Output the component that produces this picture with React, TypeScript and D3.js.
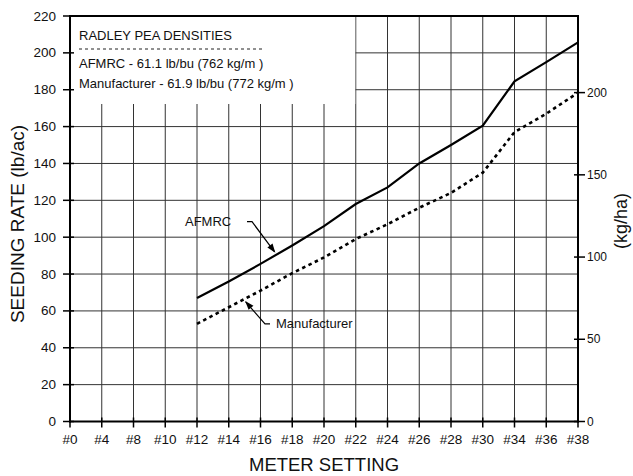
import * as d3 from 'd3';

const W = 633;
const H = 476;
const LEFT = 70;
const RIGHT = 578;
const TOP = 16;
const BOTTOM = 421.5;
const FONT = 'Liberation Sans, Arial, Helvetica, sans-serif';

// meter settings on the x axis
const settings = ['#0', '#4', '#8', '#10', '#12', '#14', '#16', '#18', '#20', '#22', '#24', '#26', '#28', '#30', '#34', '#36', '#38'];
const measured = ['#12', '#14', '#16', '#18', '#20', '#22', '#24', '#26', '#28', '#30', '#34', '#36', '#38'];
// seeding rate, lb/ac
const afmrc = [67, 76, 85.5, 95.5, 106, 118, 127, 140, 150, 160.5, 184.5, 195, 205.7];
const manufacturer = [53, 62, 71, 80.5, 89, 99, 107, 116, 124, 135, 157, 167, 178.4];

const lbTicks = [0, 20, 40, 60, 80, 100, 120, 140, 160, 180, 200, 220];
const kgTicks = [0, 50, 100, 150, 200];
const LB_TO_KG = 1.12085;

const legendLines = [
  'AFMRC - 61.1 lb/bu (762 kg/m )',
  'Manufacturer - 61.9 lb/bu (772 kg/m )',
];

export default function App() {
  const x = d3.scalePoint<string>().domain(settings).range([LEFT, RIGHT]);
  const y = d3.scaleLinear().domain([0, 220]).range([BOTTOM, TOP]);
  const yKg = d3.scaleLinear().domain([0, 220 * LB_TO_KG]).range([BOTTOM, TOP]);

  const line = d3
    .line<number>()
    .x((_, i) => x(measured[i])!)
    .y((d) => y(d));

  // annotation anchors on the series
  const aTipX = (x('#16')! + x('#18')!) / 2;
  const aTipY = y((afmrc[2] + afmrc[3]) / 2);
  const mTipX = (x('#14')! + x('#16')!) / 2;
  const mTipY = y((manufacturer[1] + manufacturer[2]) / 2);

  const arrowHead = (tx: number, ty: number, fx: number, fy: number) => {
    const ang = Math.atan2(ty - fy, tx - fx);
    const len = 9;
    const wid = 3.2;
    const bx = tx - len * Math.cos(ang);
    const by = ty - len * Math.sin(ang);
    const px = -Math.sin(ang) * wid;
    const py = Math.cos(ang) * wid;
    return `M${tx},${ty}L${bx + px},${by + py}L${bx - px},${by - py}Z`;
  };

  const aFrom = { x: 252, y: aTipY - 33 };
  const mFrom = { x: 265, y: mTipY + 25 };

  return (
    <svg width={W} height={H} style={{ position: 'absolute', left: 0, top: 0, background: '#fff' }} fontFamily={FONT}>
      {/* grid */}
      <g stroke="#333" strokeWidth={1}>
        {settings.slice(1).map((s) => (
          <line key={s} x1={x(s)} x2={x(s)} y1={TOP} y2={BOTTOM} />
        ))}
        {lbTicks.slice(1, -1).map((t) => (
          <line key={t} x1={LEFT} x2={RIGHT} y1={y(t)} y2={y(t)} />
        ))}
      </g>
      {/* legend box covers the grid */}
      <rect x={LEFT + 1} y={TOP + 1} width={x('#22')! - LEFT - 1.5} height={104 - TOP - 1} fill="#fff" />
      <g fontSize={13} fill="#111">
        <text x={79} y={40}>RADLEY PEA DENSITIES</text>
        <line x1={79} x2={263} y1={49} y2={49} stroke="#222" strokeWidth={1} strokeDasharray="3,3" />
        {legendLines.map((t, i) => (
          <text key={t} x={79} y={68 + i * 20}>{t}</text>
        ))}
      </g>

      {/* frame */}
      <g stroke="#000" strokeWidth={2} fill="none">
        <line x1={LEFT} x2={RIGHT} y1={TOP} y2={TOP} />
        <line x1={LEFT} x2={LEFT} y1={TOP - 1} y2={BOTTOM + 1} />
        <line x1={RIGHT} x2={RIGHT} y1={TOP - 1} y2={BOTTOM + 1} />
        <line x1={LEFT - 1} x2={RIGHT + 1} y1={BOTTOM} y2={BOTTOM} />
      </g>

      {/* left axis */}
      <g stroke="#000" strokeWidth={1.5}>
        {lbTicks.map((t) => (
          <line key={t} x1={LEFT - 7} x2={LEFT + 4} y1={y(t)} y2={y(t)} />
        ))}
      </g>
      <g fontSize={13.5} fill="#111" textAnchor="end">
        {lbTicks.map((t) => (
          <text key={t} x={56} y={y(t) + 4.5}>{t}</text>
        ))}
      </g>

      {/* bottom axis */}
      <g stroke="#000" strokeWidth={1.5}>
        {settings.map((s) => (
          <line key={s} x1={x(s)} x2={x(s)} y1={BOTTOM - 4} y2={BOTTOM + 6} />
        ))}
      </g>
      <g fontSize={13.5} fill="#111" textAnchor="middle">
        {settings.map((s) => (
          <text key={s} x={x(s)} y={444}>{s}</text>
        ))}
      </g>

      {/* right axis kg/ha */}
      <g stroke="#000" strokeWidth={1.5}>
        {kgTicks.map((t) => (
          <line key={t} x1={RIGHT - 4} x2={RIGHT + 7} y1={yKg(t)} y2={yKg(t)} />
        ))}
      </g>
      <g fontSize={12} fill="#111">
        {kgTicks.map((t) => (
          <text key={t} x={587} y={yKg(t) + 4}>{t}</text>
        ))}
      </g>

      {/* series */}
      <path d={line(afmrc)!} fill="none" stroke="#000" strokeWidth={2.2} />
      <path d={line(manufacturer)!} fill="none" stroke="#000" strokeWidth={2.6} strokeDasharray="3.5,3.5" />

      {/* annotations */}
      <g stroke="#000" strokeWidth={1.2} fill="none">
        <path d={`M${aFrom.x - 5},${aFrom.y}L${aFrom.x},${aFrom.y}L${aTipX - 2},${aTipY - 3}`} />
        <path d={`M${mFrom.x + 5},${mFrom.y}L${mFrom.x},${mFrom.y}L${mTipX + 1},${mTipY + 3}`} />
      </g>
      <path d={arrowHead(aTipX - 1, aTipY - 2, aFrom.x, aFrom.y)} fill="#000" />
      <path d={arrowHead(mTipX + 0.5, mTipY + 2, mFrom.x, mFrom.y)} fill="#000" />
      <g fontSize={13} fill="#111">
        <text x={185} y={aFrom.y + 4.5}>AFMRC</text>
        <text x={276} y={mFrom.y + 4.5}>Manufacturer</text>
      </g>

      {/* axis titles */}
      <text x={324} y={471} fontSize={18.5} textAnchor="middle" fill="#111">METER SETTING</text>
      <text transform={`translate(24,224) rotate(-90)`} fontSize={19} textAnchor="middle" fill="#111">
        SEEDING RATE (lb/ac)
      </text>
      <text transform={`translate(627,221) rotate(-90)`} fontSize={18} textAnchor="middle" fill="#111">
        (kg/ha)
      </text>
    </svg>
  );
}
